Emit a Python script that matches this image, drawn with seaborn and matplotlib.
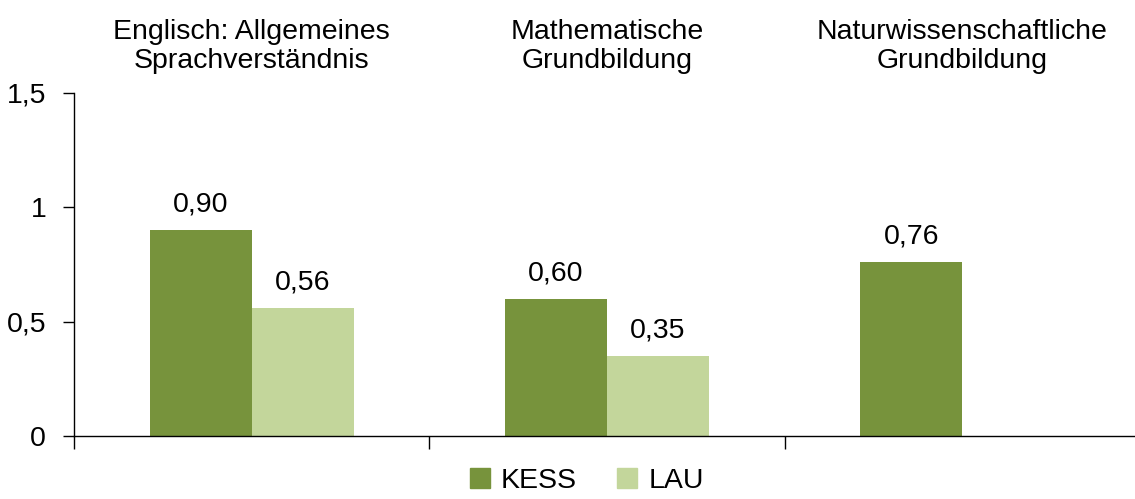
import pandas as pd
import numpy as np
import matplotlib
matplotlib.use("Agg")
import matplotlib.pyplot as plt
import seaborn as sns

# Daten
categories = ["Englisch: Allgemeines\nSprachverständnis",
              "Mathematische\nGrundbildung",
              "Naturwissenschaftliche\nGrundbildung"]
kess = [0.90, 0.60, 0.76]
lau = [0.56, 0.35, np.nan]
series = ["KESS", "LAU"]
colors = ["#77933C", "#C3D69B"]

df = pd.DataFrame({
    "Kategorie": categories * 2,
    "Studie": ["KESS"] * 3 + ["LAU"] * 3,
    "Wert": kess + lau,
})

sns.set_style("white")
plt.rcParams["font.family"] = ["Liberation Sans", "DejaVu Sans"]
plt.rcParams["text.color"] = "black"
plt.rcParams["xtick.color"] = "black"
plt.rcParams["ytick.color"] = "black"

fs = 20.5

fig = plt.figure(figsize=(11.35, 4.99), dpi=100)
ax = fig.add_axes([74 / 1135, 63 / 499, 1066 / 1135, 343 / 499])

sns.barplot(data=df, x="Kategorie", y="Wert", hue="Studie", hue_order=series,
            palette=colors, width=0.575, saturation=1, linewidth=0, ax=ax, legend=True)

# Werte über den Balken
for cont in ax.containers:
    labels = ["" if np.isnan(v) else f"{v:.2f}".replace(".", ",") for v in cont.datavalues]
    ax.bar_label(cont, labels=labels, padding=9, fontsize=fs, color="black")

ax.set_xlim(-0.5, 2.5)
ax.set_ylim(0, 1.5)
ax.set_yticks([0, 0.5, 1, 1.5])
ax.set_yticklabels(["0", "0,5", "1", "1,5"], fontsize=fs)
ax.tick_params(axis="y", direction="out", length=8, width=1, pad=12, left=True, colors="black")

# Kategorien oben
ax.set_xticks([])
ax.set_xticks([-0.5, 0.5, 1.5, 2.5], minor=True)
ax.tick_params(axis="x", which="minor", direction="out", length=9, width=1, bottom=True)
for i, cat in enumerate(categories):
    ax.text(i, 1.137, cat, transform=ax.get_xaxis_transform(), ha="center", va="center",
            fontsize=fs, linespacing=1.15, color="black")

ax.set_xlabel("")
ax.set_ylabel("")
sns.despine(ax=ax, top=True, right=True)
for s in ["left", "bottom"]:
    ax.spines[s].set_color("black")
    ax.spines[s].set_linewidth(1)

ax.get_legend().remove()
handles = [plt.Rectangle((0, 0), 1, 1, color=c) for c in colors]
fig.legend(handles, series, loc="lower center", bbox_to_anchor=(0.517, -0.042), ncol=2,
           frameon=False, fontsize=fs, handlelength=0.7, handleheight=0.7,
           handletextpad=0.4, columnspacing=1.4)

fig.savefig("out.png", dpi=100)
